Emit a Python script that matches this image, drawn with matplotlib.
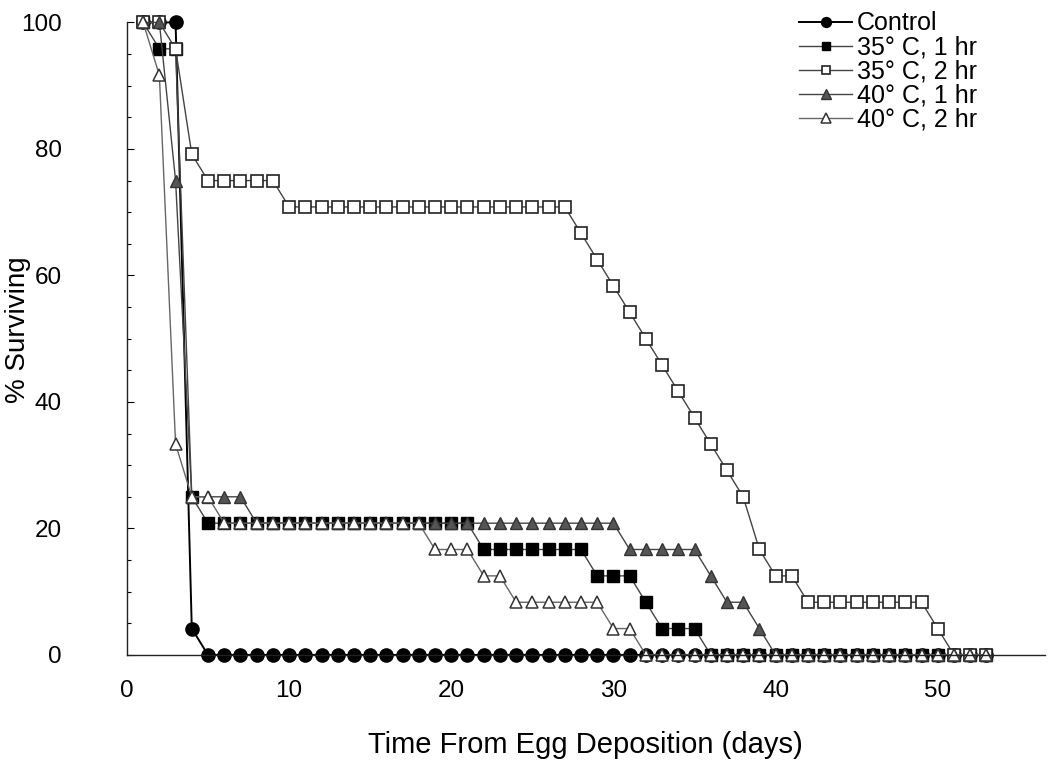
import matplotlib
matplotlib.use("Agg")
import matplotlib.pyplot as plt
from matplotlib.ticker import MultipleLocator

plt.rcParams['font.family'] = ['Liberation Sans', 'DejaVu Sans']

days = list(range(1, 54))

control = [100, 100, 100, 4.17,
           0, 0, 0, 0, 0, 0, 0, 0, 0, 0, 0, 0, 0, 0, 0, 0, 0, 0, 0, 0, 0, 0, 0, 0, 0,
           0, 0, 0, 0, 0, 0, 0, 0, 0, 0, 0, 0, 0, 0, 0, 0, 0, 0, 0, 0, 0, 0, 0, 0]

c35_1hr = [100, 95.83, 95.83, 25,
           20.83, 20.83, 20.83, 20.83, 20.83, 20.83, 20.83, 20.83, 20.83,
           20.83, 20.83, 20.83, 20.83, 20.83, 20.83, 20.83, 20.83,
           16.67, 16.67, 16.67, 16.67, 16.67, 16.67, 16.67,
           12.5, 12.5, 12.5, 8.33, 4.17, 4.17, 4.17,
           0, 0, 0, 0, 0, 0, 0, 0, 0, 0, 0, 0, 0, 0, 0, 0, 0, 0]

c35_2hr = [100, 100, 95.83, 79.17,
           75, 75, 75, 75, 75,
           70.83, 70.83, 70.83, 70.83, 70.83, 70.83, 70.83, 70.83, 70.83,
           70.83, 70.83, 70.83, 70.83, 70.83, 70.83, 70.83, 70.83, 70.83,
           66.67, 62.5, 58.33, 54.17, 50, 45.83, 41.67, 37.5, 33.33, 29.17, 25,
           16.67, 12.5, 12.5,
           8.33, 8.33, 8.33, 8.33, 8.33, 8.33, 8.33, 8.33,
           4.17, 0, 0, 0]

c40_1hr = [100, 100, 75, 25, 25, 25, 25,
           20.83, 20.83, 20.83, 20.83, 20.83, 20.83, 20.83, 20.83, 20.83, 20.83,
           20.83, 20.83, 20.83, 20.83, 20.83, 20.83, 20.83, 20.83, 20.83, 20.83,
           20.83, 20.83, 20.83,
           16.67, 16.67, 16.67, 16.67, 16.67,
           12.5, 8.33, 8.33, 4.17,
           0, 0, 0, 0, 0, 0, 0, 0, 0, 0, 0, 0, 0, 0]

c40_2hr = [100, 91.67, 33.33, 25, 25,
           20.83, 20.83, 20.83, 20.83, 20.83, 20.83, 20.83, 20.83, 20.83,
           20.83, 20.83, 20.83, 20.83,
           16.67, 16.67, 16.67, 12.5, 12.5,
           8.33, 8.33, 8.33, 8.33, 8.33, 8.33, 4.17, 4.17,
           0, 0, 0, 0, 0, 0, 0, 0, 0, 0, 0, 0, 0, 0, 0, 0, 0, 0, 0, 0, 0, 0]

labels = ["Control", "35° C, 1 hr", "35° C, 2 hr", "40° C, 1 hr", "40° C, 2 hr"]

fig = plt.figure(figsize=(10.49, 7.66), dpi=100)
ax = fig.add_axes([0.121, 0.145, 0.875, 0.8257])

line_kw = dict(clip_on=False)
ax.plot(days, control, color='black', lw=1.4, marker='o', ms=9.5,
        mfc='black', mec='black', label=labels[0], **line_kw)
ax.plot(days, c35_1hr, color='#444444', lw=1.0, marker='s', ms=8.5,
        mfc='black', mec='black', label=labels[1], **line_kw)
ax.plot(days, c35_2hr, color='#444444', lw=1.0, marker='s', ms=8,
        mfc='white', mec='#222222', mew=1.2, label=labels[2], **line_kw)
ax.plot(days, c40_1hr, color='#444444', lw=1.0, marker='^', ms=9,
        mfc='#555555', mec='#333333', label=labels[3], **line_kw)
ax.plot(days, c40_2hr, color='#666666', lw=1.0, marker='^', ms=9,
        mfc='white', mec='#333333', mew=1.1, label=labels[4], **line_kw)

ax.set_xlim(0, 56.6)
ax.set_ylim(0, 100)

for side in ('top', 'right'):
    ax.spines[side].set_visible(False)
for side in ('left', 'bottom'):
    ax.spines[side].set_linewidth(1.0)
    ax.spines[side].set_color('#222222')

ax.set_xticks([0, 10, 20, 30, 40, 50])
ax.set_yticks([0, 20, 40, 60, 80, 100])
ax.yaxis.set_minor_locator(MultipleLocator(5))
ax.tick_params(axis='x', length=0, pad=18, labelsize=17.5)
ax.tick_params(axis='y', which='major', direction='in', length=5, width=0.8,
               pad=47, labelsize=17.5)
ax.tick_params(axis='y', which='minor', direction='in', length=3, width=0.8)

ax.set_xlabel("Time From Egg Deposition (days)", fontsize=21)
ax.xaxis.set_label_coords(0.5, -0.12)
ax.set_ylabel("% Surviving", fontsize=20)
ax.yaxis.set_label_coords(-0.105, 0.514)

ax.legend(loc='upper left', bbox_to_anchor=(0.762, 0.985),
          bbox_transform=fig.transFigure, frameon=False,
          fontsize=18, markerscale=0.75, handlelength=2.1, handletextpad=0.2,
          labelspacing=0.0, borderaxespad=0.0, borderpad=0.0)

fig.savefig("out.png", dpi=100)
